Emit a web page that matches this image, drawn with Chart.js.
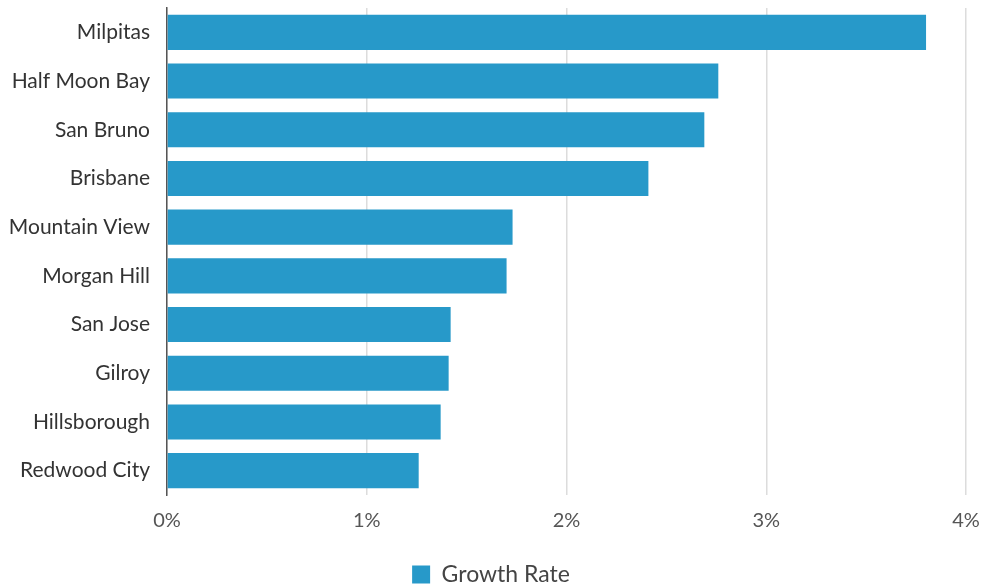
<!DOCTYPE html>
<html>
<head>
<meta charset="utf-8">
<script src="https://cdn.jsdelivr.net/npm/chart.js@4"></script>
<style>
  html, body { margin: 0; padding: 0; background: #fff; }
  #wrap { width: 982px; height: 586px; }
</style>
</head>
<body>
<div id="wrap"><canvas id="myChart"></canvas></div>
<script>
const cities = ['Milpitas', 'Half Moon Bay', 'San Bruno', 'Brisbane', 'Mountain View',
    'Morgan Hill', 'San Jose', 'Gilroy', 'Hillsborough', 'Redwood City'];
const growthRate = [3.80, 2.76, 2.69, 2.41, 1.73, 1.70, 1.42, 1.41, 1.37, 1.26];
const xTicks = [0, 1, 2, 3, 4];

const ctx = document.getElementById('myChart');
const myChart = new Chart(ctx, {
    type: 'bar',
    data: {
        labels: cities,
        datasets: [{
            label: 'Growth Rate',
            data: growthRate,
            backgroundColor: '#2799c9',
            borderWidth: 0,
            categoryPercentage: 0.72,
            barPercentage: 1
        }]
    },
    options: {
        indexAxis: 'y',
        responsive: true,
        maintainAspectRatio: false,
        animation: false,
        layout: { padding: { top: 8, right: 0, bottom: -10, left: 0 } },
        scales: {
            x: {
                min: 0,
                max: 4,
                afterBuildTicks: function (axis) {
                    axis.ticks = xTicks.map(v => ({ value: v }));
                },
                afterFit: function (axis) {
                    axis.paddingRight = 16;
                    axis.paddingLeft = 0;
                    axis.height += 14;
                },
                grid: { color: '#dcdcdc', lineWidth: 1.5, drawTicks: false },
                border: { display: false },
                ticks: {
                    padding: 14,
                    color: '#555',
                    font: { family: 'Lato', size: 20 },
                    callback: v => v + '%'
                }
            },
            y: {
                afterFit: function (axis) {
                    axis.width = 167;
                    axis.paddingTop = 0;
                    axis.paddingBottom = 0;
                },
                grid: { display: false, drawTicks: false },
                border: { display: true, color: '#555', width: 1.5 },
                ticks: {
                    padding: 17,
                    color: '#333',
                    font: { family: 'Lato', size: 21 }
                }
            }
        },
        plugins: {
            legend: {
                position: 'bottom',
                labels: {
                    boxWidth: 18,
                    boxHeight: 18,
                    padding: 2,
                    color: '#444',
                    font: { family: 'Lato', size: 23 }
                }
            },
            tooltip: { enabled: false }
        }
    }
});
</script>
</body>
</html>
